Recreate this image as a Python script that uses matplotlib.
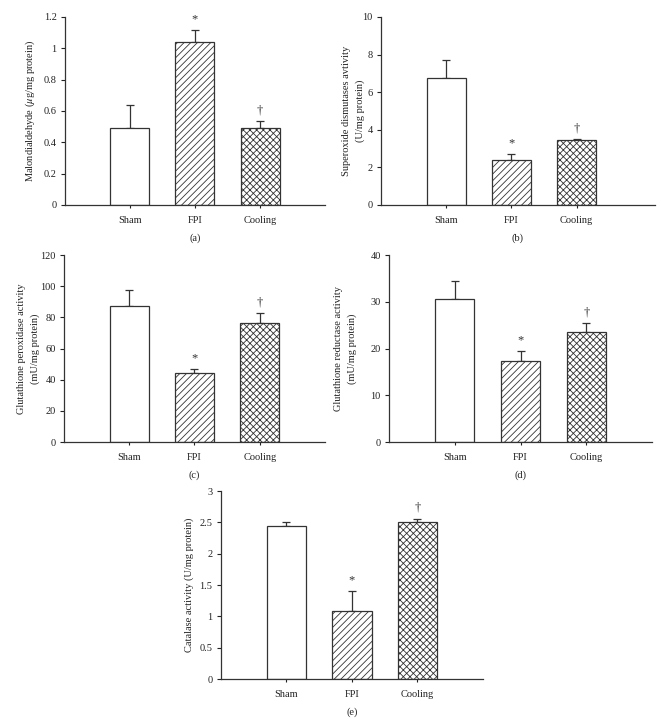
import matplotlib
matplotlib.use('Agg')
import matplotlib.pyplot as plt

plt.rcParams['font.family'] = ['Liberation Serif', 'DejaVu Serif']
plt.rcParams['mathtext.fontset'] = 'stix'
plt.rcParams['hatch.linewidth'] = 0.6

groups = ['Sham', 'FPI', 'Cooling']

mda = [0.49, 1.04, 0.49]
mda_err = [0.15, 0.075, 0.045]

sod = [6.75, 2.4, 3.45]
sod_err = [0.97, 0.32, 0.07]

gpx = [87, 44.5, 76.5]
gpx_err = [10.5, 2.5, 6]

gr = [30.5, 17.3, 23.5]
gr_err = [4.0, 2.2, 2.0]

cat = [2.45, 1.08, 2.50]
cat_err = [0.06, 0.32, 0.06]

marks = ['', '*', '†']
hatches = ['', '/////', 'xxxxx']
edge = '#333333'

panels = [
    # values, errors, ylim, ticks, label, tag, [left, bottom, width, height], xmax, label x
    (mda, mda_err, 1.2, [0, 0.2, 0.4, 0.6, 0.8, 1, 1.2],
     'Malondialdehyde ($\\mu$g/mg protein)', '(a)',
     [0.0983, 0.7153, 0.3934, 0.2611], 3, -0.135),
    (sod, sod_err, 10, [0, 2, 4, 6, 8, 10],
     'Superoxide dismutases avtivity\n(U/mg protein)', '(b)',
     [0.5764, 0.7153, 0.4145, 0.2611], 3.2, -0.10),
    (gpx, gpx_err, 120, [0, 20, 40, 60, 80, 100, 120],
     'Glutathione peroxidase activity\n(mU/mg protein)', '(c)',
     [0.0968, 0.3861, 0.3949, 0.2597], 3, -0.135),
    (gr, gr_err, 40, [0, 10, 20, 30, 40],
     'Glutathione reductase activity\n(mU/mg protein)', '(d)',
     [0.5885, 0.3861, 0.3979, 0.2597], 3, -0.167),
    (cat, cat_err, 3, [0, 0.5, 1, 1.5, 2, 2.5, 3],
     'Catalase activity (U/mg protein)', '(e)',
     [0.3343, 0.0569, 0.3964, 0.2611], 3, -0.122),
]

fig = plt.figure(figsize=(6.61, 7.2), dpi=100)

for vals, errs, ymax, ticks, ylab, tag, rect, xmax, lx in panels:
    ax = fig.add_axes(rect)
    x = [0, 1, 2]
    ax.bar(x, vals, width=0.6, color='white', edgecolor=edge,
           linewidth=0.9, hatch=hatches, zorder=2)
    ax.errorbar(x, vals, yerr=[[0, 0, 0], errs], fmt='none',
                ecolor=edge, elinewidth=0.9, capsize=3, capthick=0.9, zorder=1)
    for xi, v, e, m in zip(x, vals, errs, marks):
        if m:
            ax.text(xi, v + e + ymax * 0.025, m, ha='center', va='bottom',
                    fontsize=9, color=edge)
    ax.set_xlim(-1, xmax)
    ax.set_ylim(0, ymax)
    ax.set_yticks(ticks)
    ax.set_yticklabels([('%g' % t) for t in ticks])
    ax.set_xticks(x)
    ax.set_xticklabels(groups)
    ax.tick_params(axis='x', length=2, width=0.8, pad=6, labelsize=7.5,
                   colors='#222222')
    ax.tick_params(axis='y', length=3, width=0.8, direction='out', pad=3,
                   labelsize=7.5, colors='#222222')
    for s in ['top', 'right']:
        ax.spines[s].set_visible(False)
    for s in ['left', 'bottom']:
        ax.spines[s].set_linewidth(0.9)
        ax.spines[s].set_color(edge)
    ax.text(lx, 0.5, ylab, transform=ax.transAxes, rotation=90,
            ha='center', va='center', fontsize=7.5, color='#222222',
            linespacing=1.6, multialignment='center')
    ax.set_xlabel(tag, fontsize=7.5, color='#222222', labelpad=6)

fig.savefig('out.png', dpi=100)
